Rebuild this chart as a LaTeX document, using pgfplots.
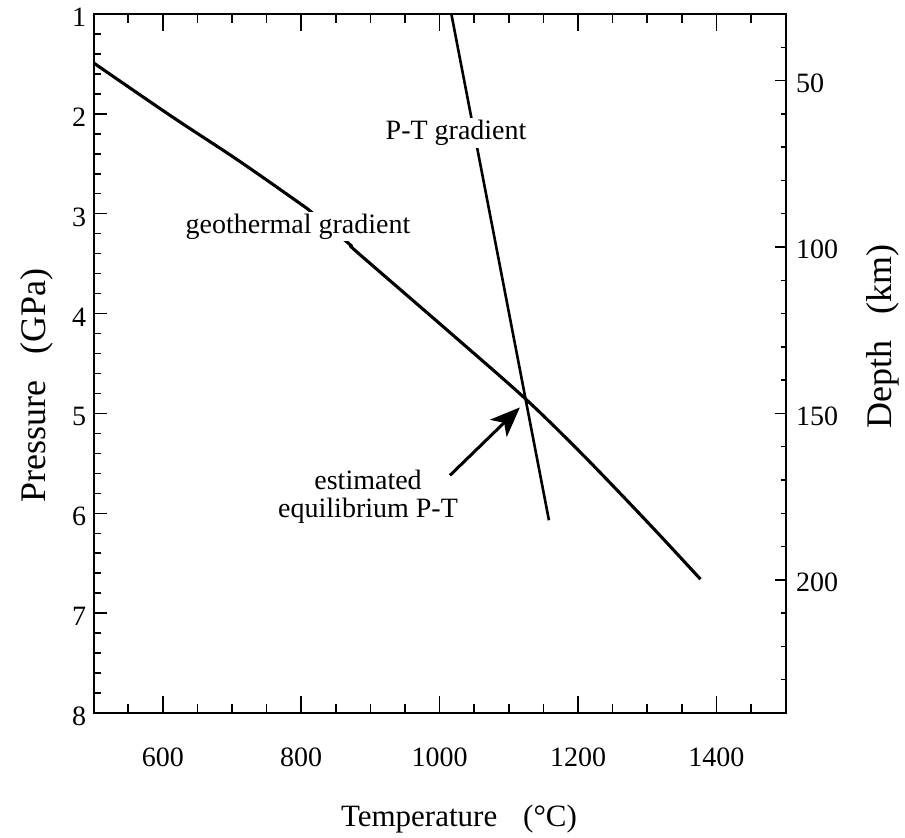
\documentclass[border=0pt]{standalone}
\usepackage{pgfplots}
\pgfplotsset{compat=1.18}
\usetikzlibrary{arrows.meta}
\usepackage{fontspec}
\setmainfont{Liberation Serif}
\begin{document}
\begin{tikzpicture}
\pgfplotsset{
  every axis/.append style={
    scale only axis, width=692pt, height=699pt,
    xmin=500, xmax=1500,
    /pgf/number format/assume math mode=true,
    /pgf/number format/1000 sep={},
    tick style={line width=1.5pt, black},
    axis line style={line width=1.8pt},
    tick align=inside,
    ticklabel style={font=\fontsize{28}{30}\selectfont},
  }
}
% axis 1: frame, temperature ticks, curves
\begin{axis}[
  ymin=1, ymax=8, y dir=reverse,
  ytick=\empty,
  xtick={600,800,1000,1200,1400},
  minor xtick={550,650,700,750,850,900,950,1050,1100,1150,1250,1300,1350,1450},
  xtick pos=both,
  major tick length=17pt, minor tick length=9pt,
  xticklabel style={yshift=-31pt},
  xlabel={Temperature\hspace{26pt}(\textdegree C)},
  xlabel style={font=\fontsize{31}{34}\selectfont, at={(axis description cs:0.528,-0.163)}, anchor=base},
  clip=false,
]
\coordinate (sw) at (axis description cs:0,0);
% geothermal gradient
\addplot[black, line width=3.1pt, smooth, tension=0.5, line join=round] coordinates {
 (500,1.49) (613.7,2.03) (706.8,2.455) (798,2.896) (817.6,3.0) (870.6,3.31)
 (880,3.38) (1015,4.19) (1123.5,4.85) (1207.8,5.42) (1302,6.10) (1377,6.66)
};
% P-T gradient
\addplot[black, line width=2.6pt] coordinates {(1017,1.0) (1158,6.07)};
% arrow
\addplot[black, line width=3pt, -{Stealth[length=30pt, width=24pt, inset=8pt]}] coordinates {(1015,5.62) (1116,4.94)};
\node[fill=white, inner sep=2pt, font=\fontsize{28}{30}\selectfont] at (axis cs:795.4,3.13) {geothermal gradient};
\node[fill=white, inner sep=2pt, font=\fontsize{28}{30}\selectfont] at (axis cs:1023.8,2.19) {P-T gradient};
\node[align=center, inner sep=0pt, font=\fontsize{28}{28}\selectfont] at (axis cs:896.6,5.83) {estimated\\equilibrium P-T};
\end{axis}
% axis 2: pressure (left)
\begin{axis}[
  hide x axis,
  axis y line*=left,
  ymin=1, ymax=8, y dir=reverse,
  ytick={1,2,3,4,5,6,7,8},
  minor tick num=4,
  major tick length=13pt, minor tick length=7pt,
  yticklabel style={xshift=-4pt, yshift=-3.5pt},
  ylabel={Pressure\hspace{26pt}(GPa)},
  ylabel style={font=\fontsize{36}{38}\selectfont, at={(axis description cs:-0.0688,0.469)}, anchor=base},
]
\end{axis}
% axis 3: depth (right)
\begin{axis}[
  hide x axis,
  axis y line*=right,
  ymin=30, ymax=240, y dir=reverse,
  ytick={50,100,150,200},
  minor ytick={40,60,70,80,90,110,120,130,140,160,170,180,190,210,220,230},
  major tick length=11pt, minor tick length=5pt,
  yticklabel style={xshift=7pt, yshift=-2.5pt},
  ylabel={Depth\hspace{26pt}(km)},
  ylabel style={font=\fontsize{36}{38}\selectfont, at={(axis description cs:1.1525,0.538)}, anchor=base, rotate=0},
]
\end{axis}
\pgfresetboundingbox
\useasboundingbox ([shift={(-93.6pt,-125pt)}]sw) rectangle ([shift={(811.4pt,713pt)}]sw);
\end{tikzpicture}
\end{document}
